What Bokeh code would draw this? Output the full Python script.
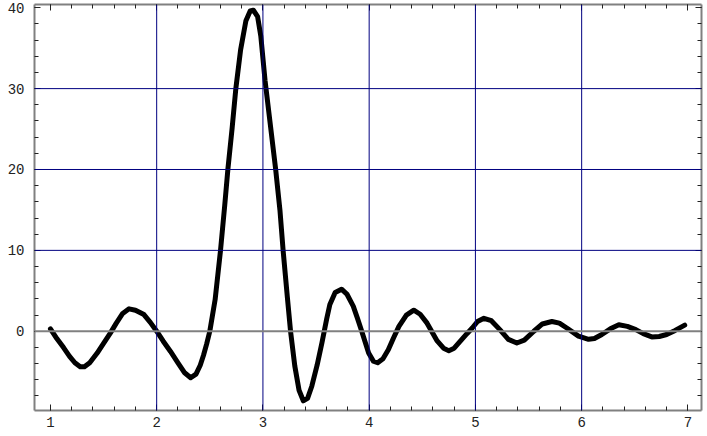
from bokeh.plotting import figure
from bokeh.models import LinearAxis, FixedTicker, Span, Range1d, ColumnDataSource, CustomLabelingPolicy
from bokeh.embed import file_html
from bokeh.resources import INLINE

# Curve values
xs = [1.00, 1.06, 1.125, 1.18, 1.23, 1.28, 1.32, 1.37, 1.44, 1.50, 1.565, 1.62, 1.68, 1.74,
      1.80, 1.88, 1.94, 2.00, 2.06, 2.13, 2.20, 2.26, 2.32, 2.37, 2.41, 2.44, 2.47, 2.50,
      2.55, 2.60, 2.64, 2.67, 2.71, 2.745, 2.79, 2.84, 2.88, 2.91, 2.95, 2.98, 3.02, 3.07,
      3.12, 3.16, 3.19, 3.23, 3.26, 3.30, 3.34, 3.38, 3.42, 3.46, 3.51, 3.556, 3.60, 3.63,
      3.68, 3.74, 3.79, 3.85, 3.89, 3.93, 3.995, 4.04, 4.08, 4.13, 4.18, 4.23, 4.28, 4.35,
      4.42, 4.48, 4.545, 4.64, 4.70, 4.75, 4.80, 4.86, 4.92, 4.97, 5.02, 5.08, 5.15, 5.23,
      5.31, 5.39, 5.46, 5.55, 5.63, 5.72, 5.79, 5.86, 5.97, 6.065, 6.12, 6.19, 6.27, 6.35,
      6.43, 6.51, 6.58, 6.66, 6.73, 6.80, 6.88, 6.97]
ys = [0.3, -0.9, -2.05, -3.1, -3.9, -4.4, -4.4, -3.9, -2.7, -1.5, -0.2, 1.0, 2.2, 2.77,
      2.6, 2.06, 1.1, 0.0, -1.2, -2.5, -3.9, -5.1, -5.75, -5.3, -4.2, -3.0, -1.6, 0.0,
      3.9, 9.9, 15.5, 20.0, 25.1, 30.0, 34.8, 38.4, 39.6, 39.7, 38.9, 36.5, 31.0, 25.5,
      20.0, 15.0, 10.0, 4.2, 0.0, -4.3, -7.3, -8.6, -8.3, -6.8, -4.2, -1.4, 1.5, 3.3,
      4.8, 5.2, 4.6, 3.1, 1.6, 0.0, -2.7, -3.7, -3.9, -3.4, -2.3, -0.8, 0.6, 2.0,
      2.6, 2.1, 1.0, -1.2, -2.1, -2.4, -2.1, -1.2, -0.3, 0.4, 1.2, 1.6, 1.3, 0.2,
      -1.0, -1.45, -1.1, 0.0, 0.9, 1.2, 1.0, 0.4, -0.6, -1.0, -0.9, -0.4, 0.3, 0.8,
      0.6, 0.2, -0.3, -0.7, -0.65, -0.4, 0.1, 0.75]

x_ticks = [1, 2, 3, 4, 5, 6, 7]
y_ticks = [0, 10, 20, 30, 40]
grid_x = [2, 3, 4, 5, 6]
grid_y = [10, 20, 30]
x_minor = [round(1 + 0.2 * i, 2) for i in range(31)]
y_minor = [-8 + 2 * i for i in range(25)]

p = figure(width=705, height=434, output_backend="svg", toolbar_location=None,
           x_range=Range1d(0.85, 7.128), y_range=Range1d(-9.8, 40.4),
           x_axis_location=None, y_axis_location=None,
           min_border_left=34, min_border_right=3, min_border_top=3, min_border_bottom=24)
p.outline_line_color = None
p.background_fill_color = "white"

xt = FixedTicker(ticks=x_ticks, minor_ticks=x_minor)
yt = FixedTicker(ticks=y_ticks, minor_ticks=y_minor)

hide_all = CustomLabelingPolicy(code="for (let i = 0; i < indices.size; i++) { indices.unset(i) } return indices")

def style(ax, labels):
    ax.axis_line_color = "#808080"
    ax.axis_line_width = 2
    ax.major_tick_in = 6
    ax.major_tick_out = 0
    ax.minor_tick_in = 4
    ax.minor_tick_out = 0
    ax.major_tick_line_color = "#222222"
    ax.minor_tick_line_color = "#222222"
    ax.major_label_text_font = "Liberation Mono"
    ax.major_label_text_font_size = "14px"
    ax.major_label_text_color = "#222222"
    if not labels:
        ax.major_label_text_font_size = "1px"
        ax.major_label_standoff = 0
        ax.major_label_policy = hide_all

bx = LinearAxis(ticker=xt); style(bx, True); bx.major_label_standoff = 6
lx = LinearAxis(ticker=yt); style(lx, True); lx.major_label_standoff = 10
tx = LinearAxis(ticker=xt); style(tx, False)
rx = LinearAxis(ticker=yt); style(rx, False)
p.add_layout(bx, "below")
p.add_layout(lx, "left")
p.add_layout(tx, "above")
p.add_layout(rx, "right")

p.xgrid.visible = False
p.ygrid.visible = False
for gx in grid_x:
    p.add_layout(Span(location=gx, dimension="height", line_color="#000080", line_width=1))
for gy in grid_y:
    p.add_layout(Span(location=gy, dimension="width", line_color="#000080", line_width=1))
p.add_layout(Span(location=0, dimension="width", line_color="#808080", line_width=2))

src = ColumnDataSource(dict(x=xs, y=ys))
p.line("x", "y", source=src, line_color="black", line_width=5, line_join="round", line_cap="round")

open("out.html", "w").write(file_html(p, INLINE))
